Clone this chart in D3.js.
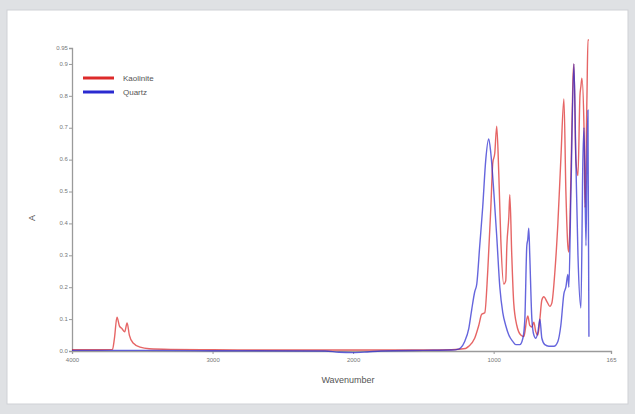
<!DOCTYPE html>
<html>
<head>
<meta charset="utf-8">
<script src="https://cdn.jsdelivr.net/npm/d3@7"></script>
<style>
  body { margin: 0; background: #dfe1e4; font-family: "Liberation Sans", Arial, sans-serif; }
  #my_dataviz { width: 635px; height: 414px; }
</style>
</head>
<body>
<div id="my_dataviz"></div>
<script>
// spectra (wavenumber, absorbance)
var kaoliniteWn = [4000, 3800, 3712, 3698, 3680, 3662, 3644, 3625, 3608, 3592, 3565, 3515, 3450, 3300, 3000, 2500, 2000, 1500, 1300, 1200,
  1177, 1135, 1106, 1085, 1063, 1042, 1020, 1006, 992, 978, 963, 949, 928, 914, 906, 892, 885, 871, 857, 835, 807, 785,
  764, 757, 743, 728, 714, 700, 685, 671, 657, 643, 621, 600, 586, 564, 543, 522, 500, 486, 472, 465, 450, 436, 429,
  415, 400, 386, 379, 372, 357, 350, 336, 329, 322];
var kaoliniteA = [0.004, 0.004, 0.005, 0.04, 0.106, 0.078, 0.07, 0.06, 0.088, 0.05, 0.025, 0.012, 0.007, 0.005, 0.004, 0.003, 0.003, 0.003, 0.004, 0.008,
  0.015, 0.04, 0.08, 0.115, 0.12, 0.25, 0.45, 0.59, 0.62, 0.705, 0.55, 0.35, 0.21, 0.22, 0.33, 0.42, 0.49, 0.3, 0.15, 0.08, 0.05, 0.045,
  0.1, 0.11, 0.08, 0.075, 0.09, 0.06, 0.05, 0.1, 0.16, 0.17, 0.155, 0.14, 0.15, 0.25, 0.4, 0.6, 0.79, 0.5, 0.33, 0.31, 0.55, 0.85, 0.9,
  0.6, 0.55, 0.8, 0.83, 0.855, 0.7, 0.45, 0.8, 0.975, 0.975];

var quartzWn = [4000, 3500, 3000, 2200, 2100, 2000, 1900, 1800, 1500, 1300, 1250, 1234, 1206, 1177, 1156, 1135, 1120, 1099, 1078, 1056,
  1035, 1020, 999, 978, 956, 935, 914, 892, 864, 842, 814, 792, 778, 764, 757, 750, 743, 728, 714, 700, 685, 671, 657, 636,
  607, 571, 543, 522, 500, 486, 472, 465, 450, 429, 415, 400, 379, 365, 357, 343, 336, 329, 322];
var quartzA = [0.002, 0.002, 0.001, 0.0, -0.004, -0.005, -0.003, 0.0, 0.002, 0.003, 0.006, 0.01, 0.03, 0.07, 0.13, 0.185, 0.21, 0.33, 0.45, 0.6,
  0.665, 0.62, 0.5, 0.36, 0.2, 0.12, 0.08, 0.05, 0.03, 0.02, 0.02, 0.04, 0.1, 0.33, 0.35, 0.385, 0.3, 0.1, 0.05, 0.04, 0.06, 0.1, 0.04, 0.02,
  0.015, 0.015, 0.03, 0.08, 0.18, 0.2, 0.24, 0.2, 0.5, 0.9, 0.6, 0.3, 0.135, 0.6, 0.7, 0.33, 0.6, 0.755, 0.045];

var seriesNames = ["Kaolinite", "Quartz"];
var seriesColors = ["#dd2a2a", "#2a2ad0"];
var xTicks = [4000, 3000, 2000, 1000, 165];
var yTicks = [0, 0.1, 0.2, 0.3, 0.4, 0.5, 0.6, 0.7, 0.8, 0.9, 0.95];

var width = 635, height = 414;

var svg = d3.select("#my_dataviz")
  .append("svg")
    .attr("width", width)
    .attr("height", height);

// white card on the grey background
svg.append("rect")
  .attr("x", 7).attr("y", 10)
  .attr("width", 621).attr("height", 394)
  .attr("fill", "#fff")
  .attr("stroke", "#cfd1d5");

// scales
var xscale = d3.scaleLinear()
  .domain([4000, 165])
  .range([72, 611]);

var yscale = d3.scaleLinear()
  .domain([0, 0.95])
  .range([351, 48]);

// axes
var xAxis = svg.append("g")
  .attr("transform", "translate(0,351)")
  .call(d3.axisBottom(xscale).tickValues(xTicks).tickSize(3).tickFormat(d3.format("d")));

var yAxis = svg.append("g")
  .attr("transform", "translate(72,0)")
  .call(d3.axisLeft(yscale).tickValues(yTicks).tickSize(3)
    .tickFormat(function(d) { return d === 0.95 ? "0.95" : d.toFixed(1); }));

[xAxis, yAxis].forEach(function(ax) {
  ax.select(".domain").attr("stroke", "#9a9a9a").attr("stroke-width", 1.3);
  ax.selectAll(".tick line").attr("stroke", "#9a9a9a");
  ax.selectAll(".tick text")
    .attr("fill", "#777")
    .style("font-size", "6px");
});
xAxis.selectAll(".tick text").attr("dy", "0.9em");
yAxis.selectAll(".tick text").attr("dx", "0.3em").attr("dy", "0.2em");

// lines
var line = d3.line()
  .x(function(d) { return xscale(d[0]); })
  .y(function(d) { return yscale(d[1]); })
  .curve(d3.curveMonotoneX);

var series = [
  d3.zip(kaoliniteWn, kaoliniteA),
  d3.zip(quartzWn, quartzA)
];

svg.append("g")
  .selectAll("path")
  .data(series)
  .enter().append("path")
    .attr("d", line)
    .attr("fill", "none")
    .attr("stroke", function(d, i) { return seriesColors[i]; })
    .attr("stroke-width", 1.4)
    .attr("stroke-opacity", 0.72);

// legend
var legend = svg.append("g")
  .selectAll("g")
  .data(seriesNames)
  .enter().append("g")
    .attr("transform", function(d, i) { return "translate(83," + (78 + i * 14) + ")"; });

legend.append("line")
  .attr("x1", 0).attr("x2", 31)
  .attr("stroke", function(d, i) { return seriesColors[i]; })
  .attr("stroke-width", 3);

legend.append("text")
  .attr("x", 40)
  .attr("dy", "0.35em")
  .attr("fill", "#555")
  .style("font-size", "8px")
  .text(function(d) { return d; });

// axis titles
svg.append("text")
  .attr("transform", "translate(348,383)")
  .style("text-anchor", "middle")
  .attr("fill", "#555")
  .style("font-size", "9px")
  .text("Wavenumber");

svg.append("text")
  .attr("transform", "translate(35,218) rotate(-90)")
  .style("text-anchor", "middle")
  .attr("fill", "#555")
  .style("font-size", "9px")
  .text("A");
</script>
</body>
</html>
